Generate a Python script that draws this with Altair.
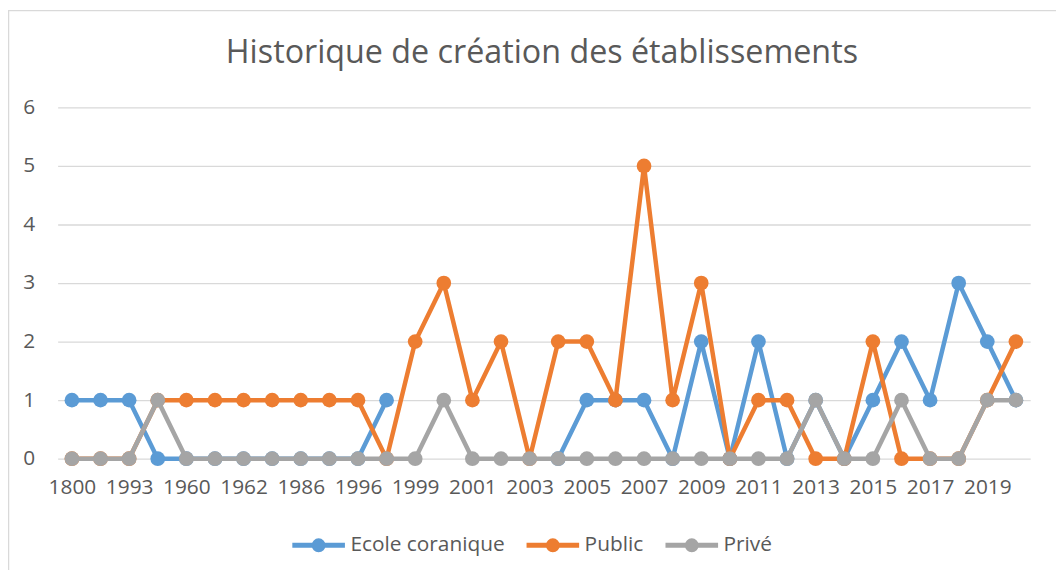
import altair as alt
import pandas as pd
import json

years = ["1800", "1900", "1993", "1994", "1960", "1961", "1962", "1980", "1986", "1990",
         "1996", "1998", "1999", "2000", "2001", "2002", "2003", "2004", "2005", "2006",
         "2007", "2008", "2009", "2010", "2011", "2012", "2013", "2014", "2015", "2016",
         "2017", "2018", "2019", "2020"]

N = None
ecole = [1, 1, 1, 0, 0, 0, 0, 0, 0, 0, 0, 1, N, N, N, N, N, 0, 1, 1,
         1, 0, 2, 0, 2, 0, 1, 0, 1, 2, 1, 3, 2, 1]
public = [0, 0, 0, 1, 1, 1, 1, 1, 1, 1, 1, 0, 2, 3, 1, 2, 0, 2, 2, 1,
          5, 1, 3, 0, 1, 1, 0, 0, 2, 0, 0, 0, 1, 2]
prive = [0, 0, 0, 1, 0, 0, 0, 0, 0, 0, 0, 0, 0, 1, 0, 0, 0, 0, 0, 0,
         0, 0, 0, 0, 0, 0, 1, 0, 0, 1, 0, 0, 1, 1]

series = ["Ecole coranique", "Public", "Privé"]
colors = ["#5B9BD5", "#ED7D31", "#A5A5A5"]
shown_labels = years[::2]
title_text = "Historique de création des établissements"

rows = []
for name, vals in zip(series, [ecole, public, prive]):
    for y, v in zip(years, vals):
        rows.append({"annee": y, "valeur": v, "type": name})
df = pd.DataFrame(rows)

W, H = 980, 354
FONT = "Open Sans"
TXT = "#595959"

label_expr = "indexof(" + json.dumps(shown_labels) + ", datum.value) >= 0 ? datum.label : ''"

x_enc = alt.X("annee:O", sort=years,
              scale=alt.Scale(type="point", padding=0.5),
              axis=alt.Axis(title=None, labelExpr=label_expr, labelAngle=0,
                            labelOverlap=False, ticks=False, domain=False,
                            labelPadding=18, grid=False))
y_enc = alt.Y("valeur:Q", scale=alt.Scale(domain=[0, 6], nice=False),
              axis=alt.Axis(title=None, values=[0, 1, 2, 3, 4, 5, 6], ticks=False,
                            domain=False, labelPadding=23, grid=True))

legend = alt.Legend(title=None, orient="none", direction="horizontal",
                    legendX=234, legendY=412,
                    symbolType="M-1,0H1M-0.17,0A0.17,0.17 0 1,0 0.17,0A0.17,0.17 0 1,0 -0.17,0M-0.08,0A0.08,0.08 0 1,0 0.08,0A0.08,0.08 0 1,0 -0.08,0",
                    symbolSize=2809, symbolStrokeWidth=5, labelOffset=3,
                    columnPadding=11, labelFont=FONT, labelFontSize=21,
                    labelColor=TXT)
color_enc = alt.Color("type:N", scale=alt.Scale(domain=series, range=colors),
                      legend=legend)

base = alt.Chart(df)
layers = []
for name in series:
    s = base.transform_filter(alt.datum.type == name)
    layers.append(s.mark_line(strokeWidth=4.5).encode(x=x_enc, y=y_enc, color=color_enc))
    layers.append(s.mark_point(filled=True, size=220, opacity=1).encode(
        x=x_enc, y=y_enc, color=color_enc))

one = alt.Data(values=[{"t": title_text}])
title_mark = alt.Chart(one).mark_text(font=FONT, fontSize=32.5, color=TXT,
                                      align="center", baseline="alphabetic").encode(
    text="t:N", x=alt.value(W / 2 - 2), y=alt.value(-45))

border_left = alt.Chart(one).mark_rule(color="#D9D9D9", strokeWidth=1.5).encode(
    x=alt.value(-49.5), y=alt.value(-98), y2=alt.value(470))
border_top = alt.Chart(one).mark_rule(color="#D9D9D9", strokeWidth=1.5).encode(
    x=alt.value(-50), x2=alt.value(1010), y=alt.value(-97.5))

chart = alt.layer(*layers, title_mark, border_left, border_top).properties(
    width=W, height=H,
    autosize=alt.AutoSizeParams(type="none"),
    padding={"left": 50, "top": 98, "right": 26, "bottom": 110},
).configure_view(stroke=None).configure_axis(
    labelFont=FONT, labelFontSize=21, labelColor=TXT,
    gridColor="#D9D9D9", gridWidth=1.3,
)

chart.save("out.html", embed_options={"renderer": "svg", "actions": False})
